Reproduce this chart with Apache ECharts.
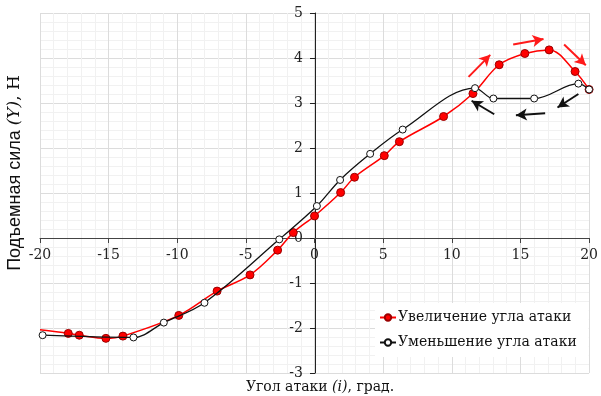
<!DOCTYPE html>
<html>
<head>
<meta charset="utf-8">
<script src="https://cdn.jsdelivr.net/npm/echarts@6/dist/echarts.min.js"></script>
<style>html,body{margin:0;padding:0;background:#fff;}#c{width:601px;height:396px;}</style>
</head>
<body>
<div id="c"></div>
<script>
// Data
const seriesNames = ['Увеличение угла атаки', 'Уменьшение угла атаки'];
const increasingAngle = [-20, -17.94, -17.14, -15.2, -13.96, -9.89, -7.1, -4.7, -2.69, -1.55, 0, 1.9, 2.91, 5.08, 6.18, 9.4, 11.54, 13.45, 15.32, 17.09, 18.98, 20];
const increasingLift  = [-2.04, -2.12, -2.16, -2.23, -2.18, -1.72, -1.18, -0.82, -0.27, 0.12, 0.49, 1.01, 1.35, 1.83, 2.14, 2.70, 3.21, 3.85, 4.10, 4.18, 3.70, 3.30];
const decreasingAngle = [20, 19.22, 16.0, 13.03, 11.69, 6.42, 4.05, 1.86, 0.17, -2.57, -8.02, -10.98, -13.19, -19.81];
const decreasingLift  = [3.30, 3.43, 3.10, 3.10, 3.33, 2.41, 1.87, 1.29, 0.71, -0.03, -1.44, -1.88, -2.21, -2.16];
const redArrows = [[[11.22, 3.58], [12.8, 4.07]], [[14.47, 4.30], [16.68, 4.42]], [[18.18, 4.30], [19.76, 3.84]]];
const blackArrows = [[[19.22, 3.2], [17.7, 2.9]], [[16.8, 2.77], [14.67, 2.73]], [[13.09, 2.75], [11.44, 3.05]]];
const xTitle = 'Угол атаки {i|(i)}, град.';
const yTitle = '{s|Подъемная сила }{i|(Y)}{r|, Н}';

const SERIF = '"DejaVu Serif", serif';
const SANS = '"Liberation Sans", Arial, sans-serif';

const GRID = { left: 40, right: 11, top: 13, bottom: 23 };
const PLOT_W = 601 - GRID.left - GRID.right;
const PLOT_H = 396 - GRID.top - GRID.bottom;
// place the axes through zero (computed from axis ranges)
const X_MIN = -20, X_MAX = 20, Y_MIN = -3, Y_MAX = 5;
const xAxisOffset = -PLOT_H * (0 - Y_MIN) / (Y_MAX - Y_MIN);
const yAxisOffset = -PLOT_W * (0 - X_MIN) / (X_MAX - X_MIN);

const redData = increasingAngle.map((x, i) => i === 0 ? { value: [x, increasingLift[i]], symbol: 'none' } : [x, increasingLift[i]]);
const blackData = decreasingAngle.map((x, i) => [x, decreasingLift[i]]);
const toMark = arr => arr.map(a => [{ coord: a[0] }, { coord: a[1] }]);

const chart = echarts.init(document.getElementById('c'), null, { renderer: 'canvas' });
chart.setOption({
  animation: false,
  backgroundColor: '#fff',
  grid: Object.assign({ containLabel: false }, GRID),
  xAxis: {
    type: 'value', min: X_MIN, max: X_MAX, interval: 5,
    position: 'bottom', offset: xAxisOffset,
    axisLine: { onZero: false, lineStyle: { color: '#444', width: 1 } },
    axisTick: { show: true, length: 5, lineStyle: { color: '#444' } },
    axisLabel: { margin: 10, fontFamily: SERIF, fontSize: 14, color: '#222' },
    splitLine: { show: true, lineStyle: { color: '#dcdcdc', width: 1 } },
    minorTick: { show: false, splitNumber: 5 },
    minorSplitLine: { show: true, lineStyle: { color: '#f1f1f1', width: 1 } }
  },
  yAxis: {
    type: 'value', min: Y_MIN, max: Y_MAX, interval: 1,
    position: 'left', offset: yAxisOffset,
    axisLine: { show: true, onZero: false, lineStyle: { color: '#222', width: 1 } },
    axisTick: { show: true, length: 5, lineStyle: { color: '#222' } },
    axisLabel: { margin: 12, fontFamily: SERIF, fontSize: 14, color: '#222' },
    splitLine: { show: true, lineStyle: { color: '#dcdcdc', width: 1 } },
    minorTick: { show: false, splitNumber: 5 },
    minorSplitLine: { show: true, lineStyle: { color: '#f1f1f1', width: 1 } }
  },
  legend: {
    orient: 'vertical', left: 375, top: 303,
    backgroundColor: '#fff', padding: [6, 12, 6, 4], itemGap: 8,
    itemWidth: 16, itemHeight: 8,
    textStyle: { fontFamily: SERIF, fontSize: 14, color: '#111', lineHeight: 17, padding: [0, 0, 0, -3] },
    data: seriesNames
  },
  series: [
    {
      name: seriesNames[0], type: 'line', data: redData, smooth: 0.35,
      symbol: 'circle', symbolSize: 8,
      lineStyle: { color: '#ff0000', width: 1.5 },
      itemStyle: { color: '#ff0000', borderColor: '#9a0000', borderWidth: 1 },
      z: 3,
      markLine: {
        silent: true, animation: false, symbol: ['none', 'arrow'], symbolSize: [9, 11],
        label: { show: false },
        lineStyle: { color: '#ff1a1a', width: 2, type: 'solid' },
        data: toMark(redArrows)
      }
    },
    {
      name: seriesNames[1], type: 'line', data: blackData, smooth: 0.35,
      symbol: 'circle', symbolSize: 7,
      lineStyle: { color: '#111', width: 1.3 },
      itemStyle: { color: '#fff', borderColor: '#111', borderWidth: 1 },
      z: 4,
      markLine: {
        silent: true, animation: false, symbol: ['none', 'arrow'], symbolSize: [9, 11],
        label: { show: false },
        lineStyle: { color: '#111', width: 2, type: 'solid' },
        data: toMark(blackArrows)
      }
    }
  ],
  graphic: [
    {
      type: 'text', x: 320, y: 387, silent: true,
      style: {
        text: xTitle, align: 'center', verticalAlign: 'middle',
        font: '14px ' + SERIF, fill: '#111',
        rich: { i: { fontFamily: SERIF, fontStyle: 'italic', fontSize: 14, fill: '#111' } }
      }
    },
    {
      type: 'text', x: 15, y: 173, rotation: Math.PI / 2, silent: true,
      style: {
        text: yTitle, align: 'center', verticalAlign: 'middle',
        font: '18px ' + SANS, fill: '#111',
        rich: {
          s: { fontFamily: SANS, fontSize: 18, fill: '#111' },
          i: { fontFamily: SERIF, fontStyle: 'italic', fontSize: 17, fill: '#111' },
          r: { fontFamily: SERIF, fontSize: 17, fill: '#111' }
        }
      }
    }
  ]
});
</script>
</body>
</html>
